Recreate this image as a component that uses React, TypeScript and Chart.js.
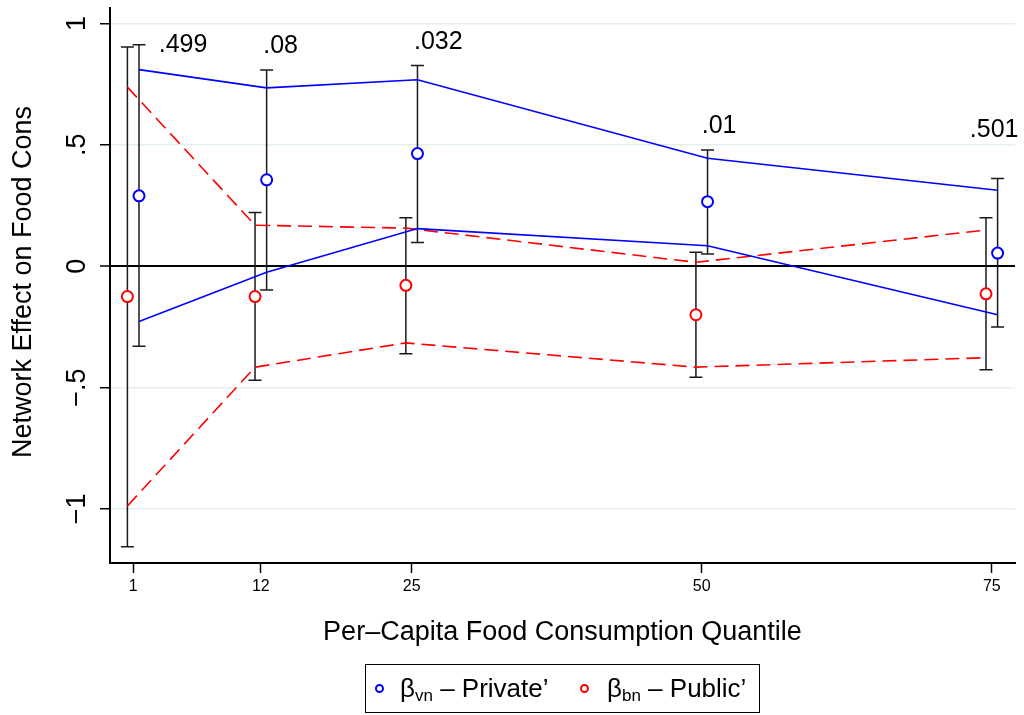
import React, { useEffect, useRef } from 'react';
import { Chart, registerables } from 'chart.js';

Chart.register(...registerables);

const FONT = '"Liberation Sans", Arial, Helvetica, sans-serif';

// Axes
const quantiles = [1, 12, 25, 50, 75];
const xTickLabels = ['1', '12', '25', '50', '75'];
const yTickValues = [-1, -0.5, 0, 0.5, 1];
const yTickLabels = ['\u22121', '\u2212.5', '0', '.5', '1'];
const xRange = [-1, 77];
const yRange = [-1.223, 1.066];

// β_vn – Private'
const privateX = [1.5, 12.5, 25.5, 50.5, 75.5];
const privateCoef = [0.29, 0.356, 0.464, 0.266, 0.054];
const privateLo = [-0.33, -0.098, 0.098, 0.05, -0.251];
const privateHi = [0.912, 0.808, 0.827, 0.479, 0.361];
const privateBandUp = [0.81, 0.735, 0.768, 0.445, 0.313];
const privateBandLow = [-0.228, -0.025, 0.155, 0.084, -0.2];

// β_bn – Public'
const publicX = [0.5, 11.5, 24.5, 49.5, 74.5];
const publicCoef = [-0.125, -0.125, -0.079, -0.2, -0.114];
const publicLo = [-1.156, -0.47, -0.361, -0.458, -0.427];
const publicHi = [0.903, 0.221, 0.2, 0.057, 0.2];
const publicBandUp = [0.738, 0.169, 0.157, 0.016, 0.149];
const publicBandLow = [-0.988, -0.416, -0.316, -0.416, -0.377];

// p-value labels
const pLabels = ['.499', '.08', '.032', '.01', '.501'];
const pLabelX = [5.3, 13.7, 27.3, 51.5, 75.2];
const pLabelY = [0.91, 0.908, 0.923, 0.577, 0.559];

const BLUE = '#0000ff';
const RED = '#ff0000';

const pts = (xs: number[], ys: number[]) => xs.map((x, i) => ({ x, y: ys[i] }));

const errorBarPlugin = {
  id: 'errorBars',
  beforeDatasetsDraw(chart: any) {
    const { ctx } = chart;
    const x = chart.scales.x;
    const y = chart.scales.y;
    ctx.save();
    ctx.strokeStyle = '#1a1a1a';
    ctx.lineWidth = 1.5;
    const draw = (xs: number[], lo: number[], hi: number[]) => {
      xs.forEach((xv, i) => {
        const px = x.getPixelForValue(xv);
        const p1 = y.getPixelForValue(lo[i]);
        const p2 = y.getPixelForValue(hi[i]);
        ctx.beginPath();
        ctx.moveTo(px, p1);
        ctx.lineTo(px, p2);
        ctx.moveTo(px - 6.5, p1);
        ctx.lineTo(px + 6.5, p1);
        ctx.moveTo(px - 6.5, p2);
        ctx.lineTo(px + 6.5, p2);
        ctx.stroke();
      });
    };
    draw(publicX, publicLo, publicHi);
    draw(privateX, privateLo, privateHi);
    ctx.restore();
  },
};

const textPlugin = {
  id: 'texts',
  afterDraw(chart: any) {
    const { ctx } = chart;
    const x = chart.scales.x;
    const y = chart.scales.y;
    ctx.save();
    ctx.fillStyle = '#000';
    // y tick labels (rotated)
    ctx.font = `27px ${FONT}`;
    ctx.textAlign = 'center';
    ctx.textBaseline = 'middle';
    yTickValues.forEach((v, i) => {
      const py = y.getPixelForValue(v);
      ctx.save();
      ctx.translate(78, py);
      ctx.rotate(-Math.PI / 2);
      ctx.fillText(yTickLabels[i], 0, 0);
      ctx.restore();
    });
    // y title
    ctx.save();
    ctx.translate(24, 282);
    ctx.rotate(-Math.PI / 2);
    ctx.fillText('Network Effect on Food Cons', 0, 0);
    ctx.restore();
    // p-value labels
    ctx.font = `25px ${FONT}`;
    pLabels.forEach((t, i) => {
      ctx.fillText(t, x.getPixelForValue(pLabelX[i]), y.getPixelForValue(pLabelY[i]));
    });
    ctx.restore();
  },
};

export default function App() {
  const ref = useRef<HTMLCanvasElement>(null);
  useEffect(() => {
    const chart = new Chart(ref.current as HTMLCanvasElement, {
      type: 'scatter',
      data: {
        datasets: [
          {
            data: pts(privateX, privateCoef),
            showLine: false,
            pointStyle: 'circle',
            pointRadius: 5.5,
            pointBorderWidth: 2,
            pointBorderColor: BLUE,
            pointBackgroundColor: '#fff',
          },
          {
            data: pts(publicX, publicCoef),
            showLine: false,
            pointStyle: 'circle',
            pointRadius: 5.5,
            pointBorderWidth: 2,
            pointBorderColor: RED,
            pointBackgroundColor: '#fff',
          },
          {
            data: pts(privateX, privateBandUp),
            showLine: true,
            pointRadius: 0,
            borderColor: BLUE,
            borderWidth: 1.6,
          },
          {
            data: pts(privateX, privateBandLow),
            showLine: true,
            pointRadius: 0,
            borderColor: BLUE,
            borderWidth: 1.6,
          },
          {
            data: pts(publicX, publicBandUp),
            showLine: true,
            pointRadius: 0,
            borderColor: RED,
            borderWidth: 1.6,
            borderDash: [14, 7],
          },
          {
            data: pts(publicX, publicBandLow),
            showLine: true,
            pointRadius: 0,
            borderColor: RED,
            borderWidth: 1.6,
            borderDash: [14, 7],
          },
        ],
      } as any,
      options: {
        animation: false,
        responsive: false,
        devicePixelRatio: 1,
        layout: { padding: { top: 6, right: 9, left: 0, bottom: 0 } },
        plugins: { legend: { display: false }, tooltip: { enabled: false } },
        scales: {
          x: {
            type: 'linear',
            min: xRange[0],
            max: xRange[1],
            afterBuildTicks: (s: any) => {
              s.ticks = quantiles.map((v) => ({ value: v }));
            },
            afterFit: (s: any) => {
              s.height = 152;
            },
            ticks: {
              font: { family: FONT, size: 16 },
              color: '#000',
              padding: 4,
              maxRotation: 0,
              autoSkip: false,
              callback: (v: any) => {
                const i = quantiles.indexOf(Number(v));
                return i >= 0 ? xTickLabels[i] : '';
              },
            },
            grid: {
              drawOnChartArea: false,
              drawTicks: true,
              tickLength: 10,
              tickColor: '#000',
              tickWidth: 1.5,
            },
            border: { color: '#000', width: 2 },
            title: {
              display: true,
              text: 'Per\u2013Capita Food Consumption Quantile',
              font: { family: FONT, size: 27 },
              color: '#000',
              padding: { top: 0, bottom: 66 },
            },
          },
          y: {
            type: 'linear',
            min: yRange[0],
            max: yRange[1],
            afterBuildTicks: (s: any) => {
              s.ticks = yTickValues.map((v) => ({ value: v }));
            },
            afterFit: (s: any) => {
              s.width = 110;
            },
            ticks: { display: false },
            grid: {
              color: (c: any) => (c.tick && c.tick.value === 0 ? '#000' : '#e4edf0'),
              lineWidth: (c: any) => (c.tick && c.tick.value === 0 ? 2 : 1.5),
              tickColor: '#000',
              tickLength: 10,
              tickWidth: 1.5,
            },
            border: { color: '#000', width: 2 },
          },
        },
      } as any,
      plugins: [errorBarPlugin, textPlugin],
    });
    return () => chart.destroy();
  }, []);

  const marker = (color: string, left: number) => (
    <span
      style={{
        position: 'absolute',
        left,
        top: '50%',
        width: 9,
        height: 9,
        marginTop: -4.5,
        border: `2px solid ${color}`,
        borderRadius: '50%',
        boxSizing: 'border-box',
      }}
    />
  );
  const label = (left: number, sub: string, rest: string) => (
    <span
      style={{
        position: 'absolute',
        left,
        top: 0,
        height: '100%',
        display: 'flex',
        alignItems: 'center',
        whiteSpace: 'nowrap',
      }}
    >
      <span>
        {'\u03b2'}
        <span style={{ fontSize: 17, position: 'relative', top: 4 }}>{sub}</span>
        {rest}
      </span>
    </span>
  );

  return (
    <div
      style={{
        position: 'absolute',
        left: 0,
        top: 0,
        width: 1024,
        height: 715,
        background: '#fff',
        fontFamily: FONT,
        overflow: 'hidden',
      }}
    >
      <canvas ref={ref} width={1024} height={715} style={{ display: 'block' }} />
      <div
        style={{
          position: 'absolute',
          left: 365,
          top: 664,
          width: 395,
          height: 49,
          border: '1.5px solid #000',
          boxSizing: 'border-box',
          fontSize: 26,
          color: '#000',
        }}
      >
        {marker(BLUE, 9)}
        {label(34, 'vn', ' \u2013 Private\u2019')}
        {marker(RED, 214)}
        {label(241, 'bn', ' \u2013 Public\u2019')}
      </div>
    </div>
  );
}
